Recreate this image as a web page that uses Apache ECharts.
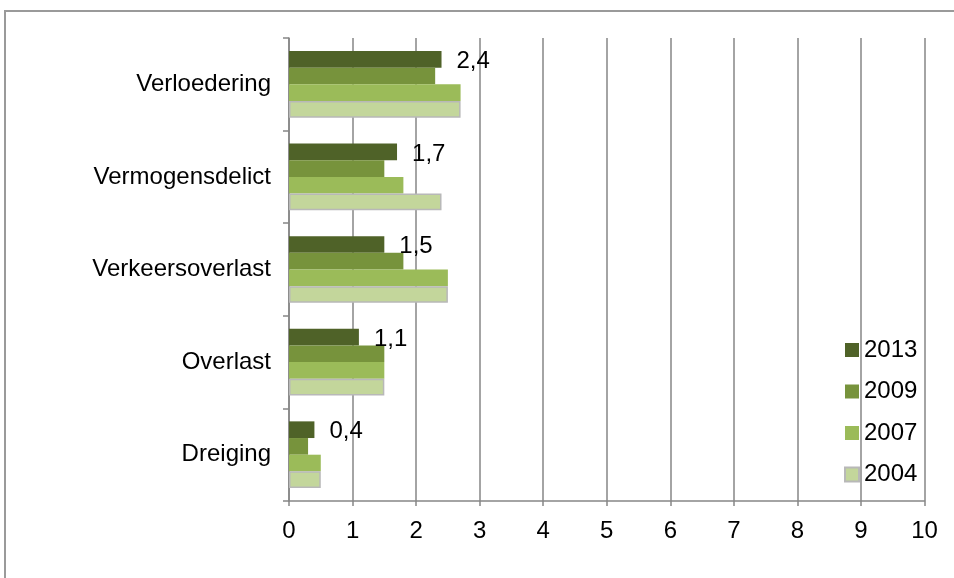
<!DOCTYPE html>
<html>
<head>
<meta charset="utf-8">
<script src="https://cdn.jsdelivr.net/npm/echarts@6/dist/echarts.min.js"></script>
<style>
html,body{margin:0;padding:0;background:#fff;}
#chart{width:954px;height:578px;}
</style>
</head>
<body>
<div id="chart"></div>
<script>
const categories = ['Verloedering', 'Vermogensdelict', 'Verkeersoverlast', 'Overlast', 'Dreiging'];
const seriesNames = ['2013', '2009', '2007', '2004'];
const values2013 = [2.4, 1.7, 1.5, 1.1, 0.4];
const values2009 = [2.3, 1.5, 1.8, 1.5, 0.3];
const values2007 = [2.7, 1.8, 2.5, 1.5, 0.5];
const values2004 = [2.7, 2.4, 2.5, 1.5, 0.5];
const xTicks = [0, 1, 2, 3, 4, 5, 6, 7, 8, 9, 10];

const colors = ['#4F6228', '#77933C', '#9BBB59', '#C3D69B'];
const font = 'Arial, "Liberation Sans", sans-serif';
const fs = 24;

const chart = echarts.init(document.getElementById('chart'), null, {renderer: 'canvas'});
const dataSets = [values2013, values2009, values2007, values2004];

chart.setOption({
  animation: false,
  textStyle: {fontFamily: font},
  graphic: [{
    type: 'rect',
    shape: {x: 5, y: 11, width: 1000, height: 620},
    style: {fill: 'none', stroke: '#9a9a9a', lineWidth: 2},
    silent: true
  }],
  grid: {left: 289, right: 29.5, top: 38, bottom: 77},
  legend: {
    orient: 'vertical',
    left: 839,
    top: 333,
    itemWidth: 14,
    itemHeight: 14,
    itemGap: 17.5,
    icon: 'rect',
    textStyle: {fontSize: fs, color: '#000', fontFamily: font},
    data: seriesNames
  },
  xAxis: {
    type: 'value',
    min: xTicks[0],
    max: xTicks[xTicks.length - 1],
    interval: 1,
    axisLine: {show: true, lineStyle: {color: '#868686', width: 1.5}},
    axisTick: {show: true, length: 5, lineStyle: {color: '#868686', width: 1.5}},
    axisLabel: {fontSize: fs, color: '#000', margin: 18, fontFamily: font},
    splitLine: {show: true, lineStyle: {color: '#868686', width: 1.5}}
  },
  yAxis: {
    type: 'category',
    inverse: true,
    data: categories,
    axisLine: {show: true, lineStyle: {color: '#868686', width: 1.5}},
    axisTick: {show: true, length: 6, lineStyle: {color: '#868686', width: 1.5}},
    axisLabel: {fontSize: fs, color: '#000', margin: 18, fontFamily: font}
  },
  series: seriesNames.map((name, i) => ({
    name: name,
    type: 'bar',
    data: dataSets[i],
    barGap: '0%',
    barCategoryGap: '28%',
    itemStyle: i === 3 ? {color: colors[i], borderColor: '#b8b8b8', borderWidth: 1.5} : {color: colors[i]},
    label: i === 0 ? {
      show: true,
      position: 'right',
      distance: 15,
      offset: [0, 2],
      fontSize: fs,
      color: '#000',
      fontFamily: font,
      formatter: p => String(p.value).replace('.', ',')
    } : {show: false}
  }))
});
</script>
</body>
</html>
